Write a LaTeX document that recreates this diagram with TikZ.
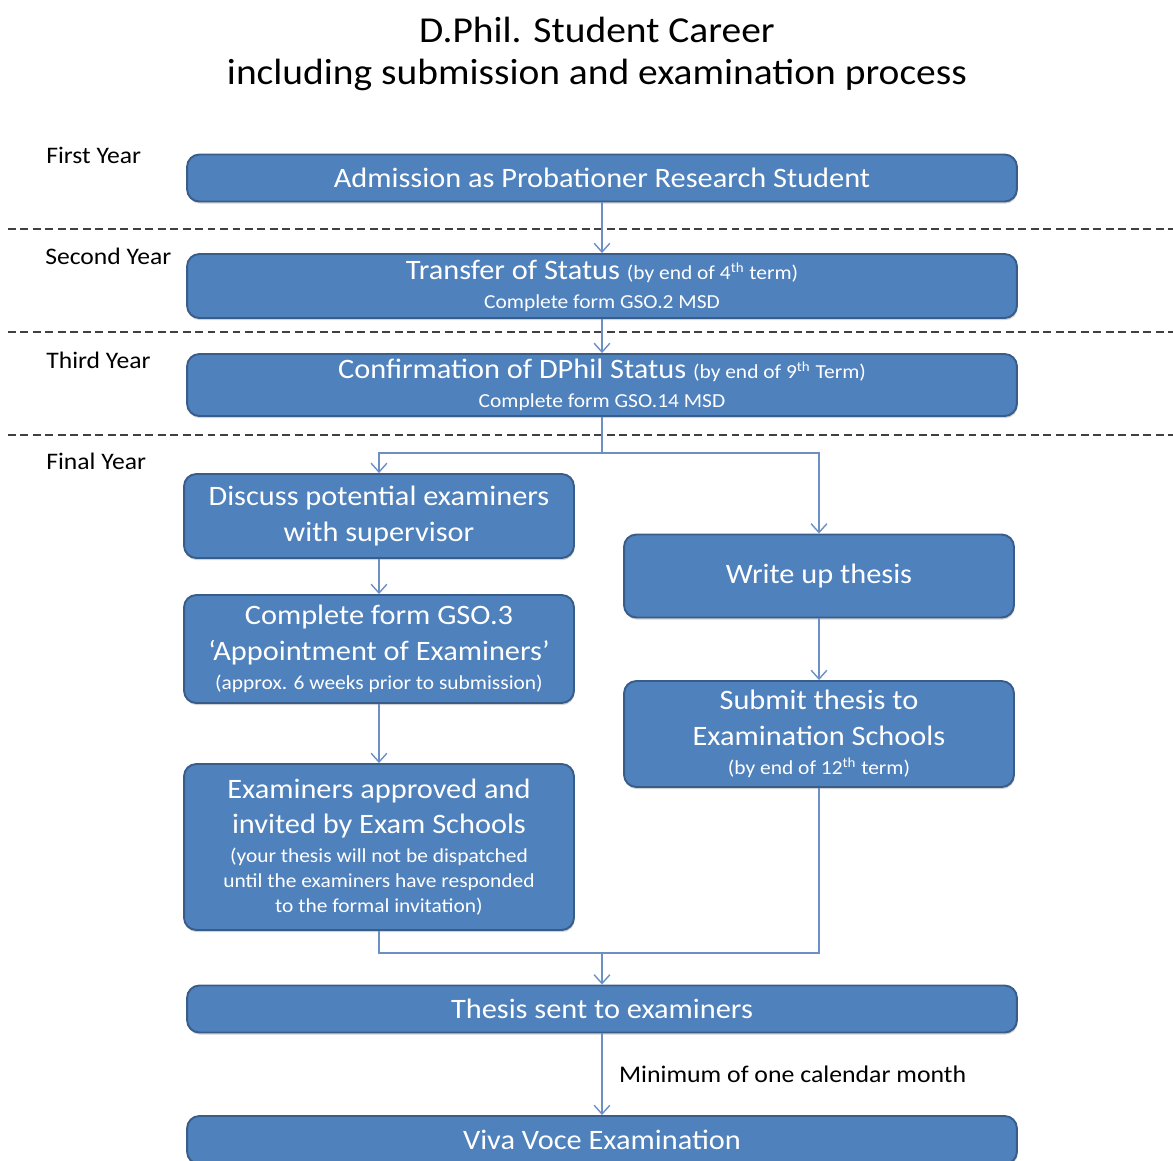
\documentclass[tikz,border=0pt]{standalone}
\usepackage{fontspec}
\setmainfont{Carlito}[FakeStretch=1.08]
\usetikzlibrary{arrows.meta,positioning,shadows}
\definecolor{boxblue}{HTML}{4F81BD}
\definecolor{boxedge}{HTML}{385D8A}
\definecolor{lineblue}{HTML}{6C90C6}
\newcommand{\bigtxt}{\fontsize{16}{20.4}\selectfont}
\newcommand{\smalltxt}{\fontsize{11.3}{14.2}\selectfont}

\begin{document}
\begin{tikzpicture}[
  x=0.02cm, y=-0.02cm,
  every node/.style={align=center},
  stage/.style={draw=boxedge,line width=1.1pt,rounded corners=7pt,fill=boxblue,text=white,
    inner sep=1pt,font=\bigtxt,drop shadow={shadow xshift=0.4pt,shadow yshift=-1.2pt,opacity=0.35}},
  wideStage/.style={stage,minimum width=16.6cm},
  halfStage/.style={stage,minimum width=7.8cm},
  yearLabel/.style={anchor=west,inner sep=0pt,font=\fontsize{13.5}{16}\selectfont},
  titleText/.style={font=\fontsize{20.8}{25}\selectfont},
  flow/.style={-{Straight Barb[length=5pt,width=9pt]},lineblue,line width=0.8pt},
  flowline/.style={lineblue,line width=0.8pt},
  separator/.style={black!75,line width=0.8pt,dash pattern=on 4.5pt off 2.6pt}]

  \useasboundingbox (0,0) rectangle (1173,1160);

  % title
  \node[titleText] (title) at (597,30) {D.Phil. Student Career};
  \node[titleText] (subtitle) at (597,75) {including submission and examination process};

  % year separators
  \draw[separator] (8,229) -- (1173,229);
  \draw[separator] (8,332) -- (1173,332);
  \draw[separator] (8,435) -- (1173,435);

  % year labels
  \node[yearLabel] (yFirst) at (46,155) {First Year};
  \node[yearLabel] (ySecond) at (45,256) {Second Year};
  \node[yearLabel] (yThird) at (46,360) {Third Year};
  \node[yearLabel] (yFinal) at (46,461) {Final Year};

  % stages
  \node[wideStage,minimum height=0.94cm] (admission) at (602,178) {Admission as Probationer Research Student};
  \node[wideStage,minimum height=1.28cm] (transfer) at (602,286)
    {Transfer of Status {\smalltxt (by end of 4\textsuperscript{th} term)}\\[-4pt]{\smalltxt Complete form GSO.2 MSD}};
  \node[wideStage,minimum height=1.24cm] (confirm) at (602,385)
    {Confirmation of DPhil Status {\smalltxt (by end of 9\textsuperscript{th} Term)}\\[-4pt]{\smalltxt Complete form GSO.14 MSD}};

  \node[halfStage,minimum height=1.68cm] (discuss) at (379,516) {Discuss potential examiners\\with supervisor};
  \node[halfStage,minimum height=2.16cm] (gsoThree) at (379,649)
    {Complete form GSO.3\\`Appointment of Examiners'\\[-4pt]{\smalltxt (approx. 6 weeks prior to submission)}};
  \node[halfStage,minimum height=3.32cm] (approved) at (379,847)
    {Examiners approved and\\invited by Exam Schools\\[-4pt]
     {\smalltxt (your thesis will not be dispatched}\\[-6.2pt]
     {\smalltxt until the examiners have responded}\\[-6.2pt]
     {\smalltxt to the formal invitation)}};

  \node[halfStage,minimum height=1.66cm] (writeUp) at (819,576) {Write up thesis};
  \node[halfStage,minimum height=2.12cm] (submit) at (819,734)
    {Submit thesis to\\Examination Schools\\[-4pt]{\smalltxt (by end of 12\textsuperscript{th} term)}};

  \node[wideStage,minimum height=0.94cm] (sent) at (602,1009) {Thesis sent to examiners};
  \node[wideStage,minimum height=0.96cm] (viva) at (602,1140) {Viva Voce Examination};

  % junctions
  \coordinate (split) at (602,453);
  \coordinate (merge) at (602,953);

  % connectors
  \draw[flow] (admission) -- (transfer);
  \draw[flow] (transfer) -- (confirm);
  \draw[flowline] (confirm.south) -- (split);
  \draw[flow] (split) -| (discuss.north);
  \draw[flow] (split) -| (writeUp.north);
  \draw[flow] (discuss) -- (gsoThree);
  \draw[flow] (gsoThree) -- (approved);
  \draw[flow] (writeUp) -- (submit);
  \draw[flowline] (approved.south) |- (merge) -| (submit.south);
  \draw[flow] (merge) -- (sent);
  \draw[flow] (sent) -- node[right,xshift=6pt,text=black,font=\fontsize{13.6}{16}\selectfont] {Minimum of one calendar month} (viva);

\end{tikzpicture}
\end{document}
